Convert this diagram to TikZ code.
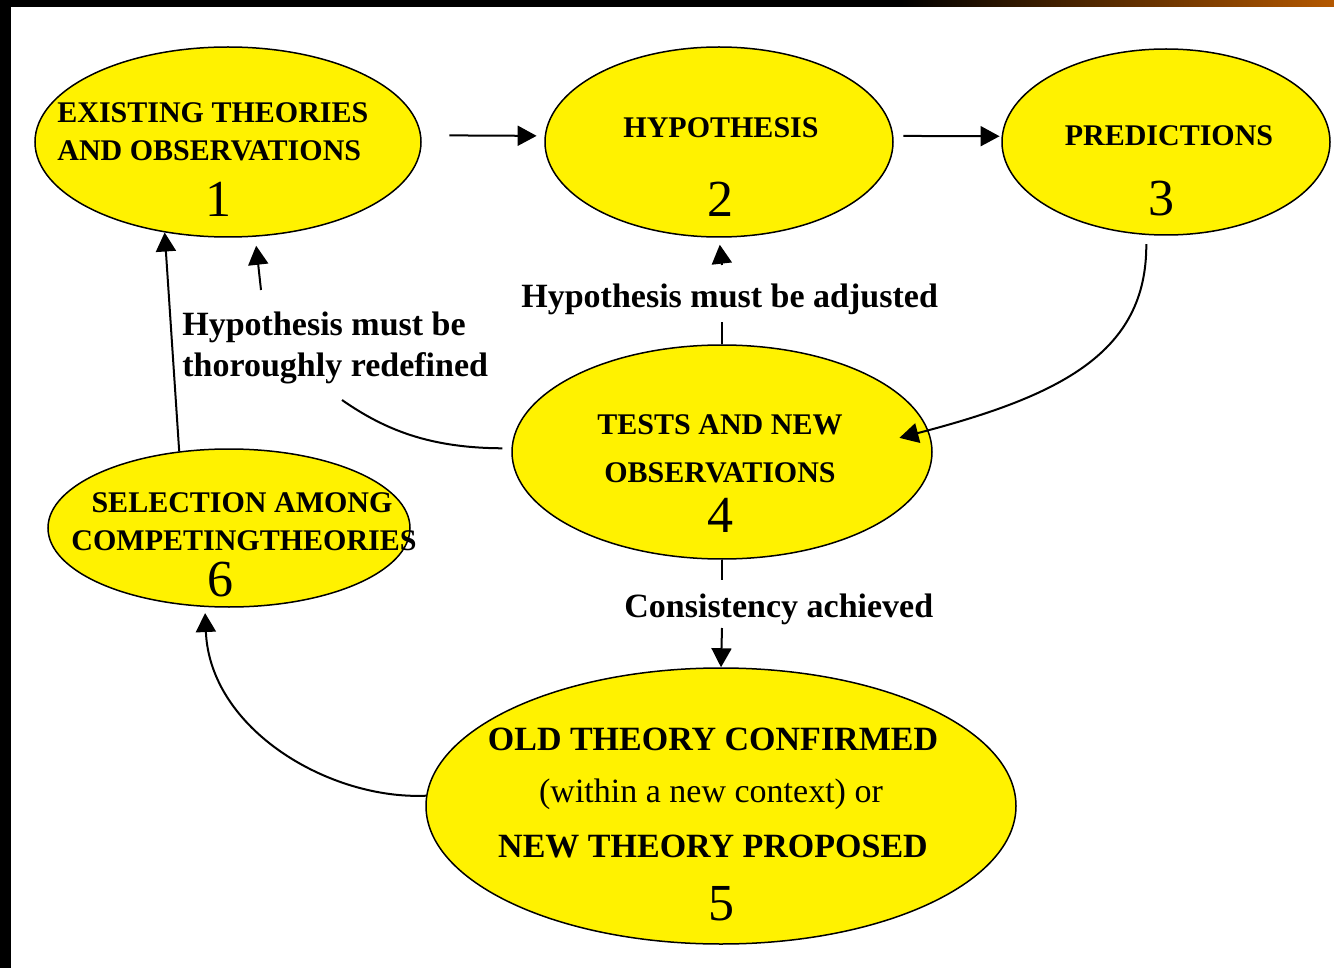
\documentclass[tikz,border=0pt]{standalone}
\usepackage{fontspec}
\setmainfont{Liberation Serif}
\usetikzlibrary{shapes.geometric,arrows.meta}

\tikzset{every picture/.style={line width=0.75pt}}
\tikzset{
  bubble/.style={ellipse, draw=black, line width=1.5pt, fill=yellow, inner sep=0pt},
  caps/.style={font=\fontsize{30}{36}\selectfont\bfseries, inner sep=0pt},
  bigcaps/.style={font=\fontsize{34}{40}\selectfont\bfseries, inner sep=0pt},
  plain/.style={font=\fontsize{34}{40}\selectfont, inner sep=0pt},
  num/.style={font=\fontsize{52}{60}\selectfont, inner sep=0pt},
  link/.style={line width=2pt, -{Triangle[length=19pt,width=20pt]}},
  wire/.style={line width=2pt},
}
\definecolor{bandorange}{RGB}{180,88,0}

\begin{document}
\begin{tikzpicture}[x=1pt,y=1pt,yscale=-1,xscale=1]
\useasboundingbox (0,0) rectangle (1334,968);
\fill[white] (0,0) rectangle (1334,968);

%Frame bands
\fill[black] (0,0) rectangle (900,7);
\shade[left color=black, right color=bandorange] (900,0) rectangle (1334,7);
\fill[black] (0,0) rectangle (11,968);

%Shape: Ellipse
\node[bubble, minimum width=386pt, minimum height=190pt] (n1) at (228,142) {};
%Shape: Ellipse
\node[bubble, minimum width=348pt, minimum height=190pt] (n2) at (719,142) {};
%Shape: Ellipse
\node[bubble, minimum width=328pt, minimum height=186pt] (n3) at (1166,142) {};
%Shape: Ellipse
\node[bubble, minimum width=420pt, minimum height=214pt] (n4) at (722,452) {};
%Shape: Ellipse
\node[bubble, minimum width=590pt, minimum height=276pt] (n5) at (721,806) {};
%Shape: Ellipse
\node[bubble, minimum width=362pt, minimum height=158pt] (n6) at (229,528) {};

% Text Node
\node[caps, anchor=base west] (t1a) at (57,123) {EXISTING THEORIES};
\node[caps, anchor=base west] (t1b) at (57,161) {AND OBSERVATIONS};
\node[num, anchor=base] (t1c) at (218,217) {1};
% Text Node
\node[caps, anchor=base] (t2a) at (721,138) {HYPOTHESIS};
\node[num, anchor=base] (t2b) at (720,217) {2};
% Text Node
\node[caps, anchor=base] (t3a) at (1169,146) {PREDICTIONS};
\node[num, anchor=base] (t3b) at (1161,216) {3};
% Text Node
\node[caps, anchor=base] (t4a) at (720,435) {TESTS AND NEW};
\node[caps, anchor=base] (t4b) at (720,482) {OBSERVATIONS};
\node[num, anchor=base] (t4c) at (720,532) {4};
% Text Node
\node[bigcaps, anchor=base] (t5a) at (713,750) {OLD THEORY CONFIRMED};
\node[plain, anchor=base] (t5b) at (711,802) {(within a new context) or};
\node[bigcaps, anchor=base] (t5c) at (713,857) {NEW THEORY PROPOSED};
\node[num, anchor=base] (t5d) at (721,920) {5};
% Text Node
\node[caps, anchor=base] (t6a) at (242,512) {SELECTION AMONG};
\node[caps, anchor=base] (t6b) at (244,550) {COMPETINGTHEORIES};
\node[num, anchor=base] (t6c) at (220,596) {6};

% Label Nodes
\node[bigcaps, anchor=base west] (adj) at (521,308) {Hypothesis must be adjusted};
\node[bigcaps, anchor=base west] (redef) at (182,336) {Hypothesis must be};
\node[bigcaps, anchor=base west] (redefb) at (182,377) {thoroughly redefined};
\node[bigcaps, anchor=base west] (cons) at (624,617) {Consistency achieved};

\coordinate (adjlo) at (722,322);
\coordinate (adjhi) at (722,265);
\coordinate (conshi) at (722,580);
\coordinate (conslo) at (722,628);
\coordinate (redlo) at (342,400);
\coordinate (redhi) at (261,290);

%Straight Lines
\draw[link, shorten <=28pt, shorten >=8pt] (n1.2) -- (n2.178);
\draw[link, shorten <=10pt, shorten >=2pt] (n2.2) -- (n3.178);
%Curve Lines
\draw[link, shorten <=9pt, shorten >=-30pt] (n3.-102) .. controls (1147,353) and (1060,396) .. (n4.6);
%Straight Lines
\draw[wire] (n4.north) -- (adjlo);
\draw[link, shorten >=7pt] (adjhi) -- (n2.south);
\draw[wire] (n4.south) -- (conshi);
\draw[link] (conslo) -- (n5.north);
%Curve Lines
\draw[wire, shorten <=9pt] (n4.179) .. controls (430,448) and (385,430) .. (redlo);
\draw[link, shorten >=9pt] (redhi) -- (n1.-74);
%Straight Lines
\draw[link] (n6.123) -- (n1.-125);
%Curve Lines
\draw[link, shorten >=6pt] (n5.178) .. controls (330,800) and (210,730) .. (n6.-107);

\end{tikzpicture}
\end{document}
